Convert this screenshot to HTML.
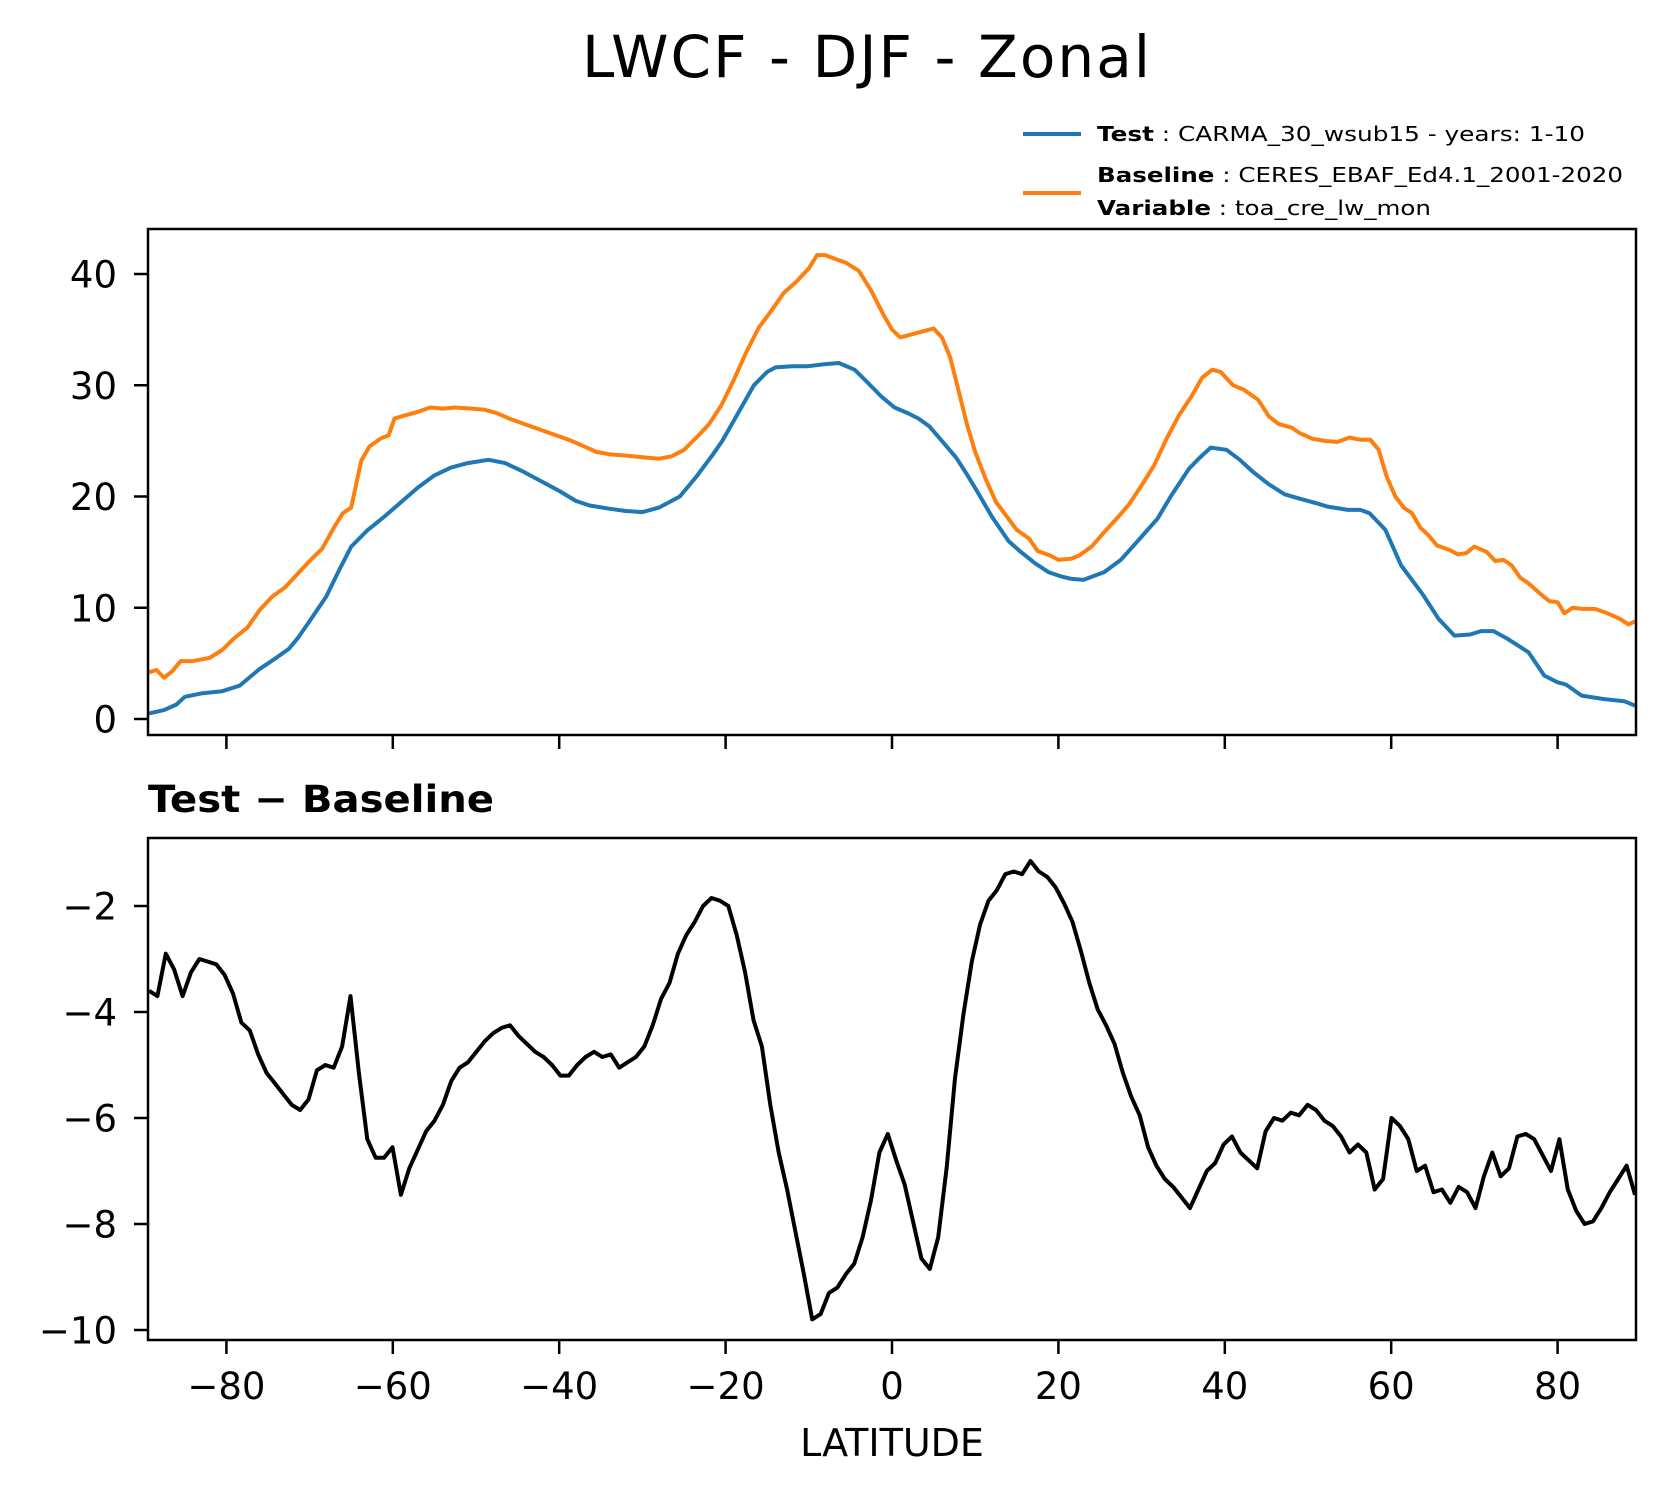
<!DOCTYPE html>
<html><head><meta charset="utf-8"><style>
html,body{margin:0;padding:0;background:#fff;}
svg{display:block;font-family:"DejaVu Sans","Liberation Sans",sans-serif;}
</style></head><body>
<svg id="fig" width="1665" height="1496" viewBox="0 0 1665 1496" xmlns="http://www.w3.org/2000/svg">
<rect width="1665" height="1496" fill="#fff"/>
<text x="866" y="77" font-size="58" text-anchor="middle" textLength="568">LWCF - DJF - Zonal</text>
<g>
  <line x1="1023" y1="134" x2="1081" y2="134" stroke="#1f77b4" stroke-width="4"/>
  <text x="1097" y="141" font-size="20" textLength="488" lengthAdjust="spacingAndGlyphs"><tspan font-weight="bold">Test</tspan> : CARMA_30_wsub15 - years: 1-10</text>
  <line x1="1023" y1="193" x2="1081" y2="193" stroke="#ff7f0e" stroke-width="4"/>
  <text x="1097" y="182" font-size="20" textLength="526" lengthAdjust="spacingAndGlyphs"><tspan font-weight="bold">Baseline</tspan> : CERES_EBAF_Ed4.1_2001-2020</text>
  <text x="1097" y="215" font-size="20" textLength="334" lengthAdjust="spacingAndGlyphs"><tspan font-weight="bold">Variable</tspan> : toa_cre_lw_mon</text>
</g>
<text x="148" y="812" font-size="37" font-weight="bold" textLength="346" lengthAdjust="spacingAndGlyphs">Test − Baseline</text>
<text x="892" y="1456" font-size="38" text-anchor="middle">LATITUDE</text>
<g id="top"></g>
<g id="bot"></g>
</svg>
<script>
const testLat = [-89.3,-87.5,-86,-85,-83,-80.5,-78.4,-76,-74,-72.5,-71.4,-70,-68,-66.5,-65,-63,-61,-59,-57,-55,-53,-51,-48.5,-46.5,-44.5,-42,-40,-38,-36.4,-34,-32,-30,-28,-25.5,-23.5,-21.5,-20.4,-18.5,-16.6,-15,-14,-12,-10.2,-8,-6.4,-4.5,-3,-1.3,0.3,1.9,3.2,4.5,6,7.7,9,10.2,12,14,15.5,17.2,18.8,20.4,21.5,23,25.5,27.5,29.3,31.9,33.5,35.7,37,38.3,40.2,41.8,43.4,45.3,47.2,49,51,52.3,54.8,56.3,57.4,59.3,61.2,63.8,65.7,67.6,69.5,70.8,72.3,74,76.5,78.4,80,81,82.9,85.5,88,89.3];
const testVals = [0.5,0.8,1.3,2,2.3,2.5,3,4.5,5.5,6.3,7.3,8.8,11,13.3,15.5,17,18.2,19.5,20.8,21.9,22.6,23,23.3,23,22.3,21.3,20.5,19.6,19.2,18.9,18.7,18.6,19,20,21.8,23.8,25,27.5,30,31.2,31.6,31.7,31.7,31.9,32,31.4,30.3,29,28,27.5,27,26.3,25,23.5,22,20.5,18.2,16,15,14,13.2,12.8,12.6,12.5,13.2,14.3,15.8,18,20,22.5,23.5,24.4,24.2,23.3,22.2,21.1,20.2,19.8,19.4,19.1,18.8,18.8,18.5,17,13.8,11.2,9,7.5,7.6,7.9,7.9,7.2,6,3.9,3.3,3.1,2.1,1.8,1.6,1.2];
const baseLat = [-89.3,-88.4,-87.5,-86.5,-85.5,-84,-82,-80.5,-79,-77.5,-76,-74.5,-73,-71.5,-70,-68.5,-67,-66,-65,-63.8,-62.8,-61.5,-60.5,-59.8,-58.5,-57,-55.5,-54,-52.5,-50.5,-49,-47.5,-46,-44.5,-43,-41.5,-40,-38.5,-37,-35.5,-34,-32.5,-31,-29.5,-28,-26.5,-25,-23.5,-22,-20.5,-19,-17.5,-16,-14.5,-13,-11.5,-10,-9,-8,-7,-5.5,-4,-2.5,-1,0,1,2.5,4,5,6,7,8,9,10,11.3,12.5,14,15,16.5,17.5,19,20,21.5,22.5,24,25.5,27,28.5,30,31.5,33,34.5,36,37.3,38.5,39.5,41,42.3,44,45.3,46.5,48,49,50.5,52,53.5,55,56.3,57.5,58.5,59.5,60.5,61.5,62.5,63.5,64.5,65.5,67,68,69,70,71.5,72.5,73.5,74.5,75.5,76.5,78,79,80,80.8,81.8,83,84.5,86,87.5,88.5,89.4];
const baseVals = [4.2,4.4,3.7,4.3,5.2,5.2,5.5,6.2,7.3,8.2,9.8,11,11.8,13,14.2,15.3,17.3,18.5,19,23.2,24.5,25.2,25.5,27,27.3,27.6,28,27.9,28,27.9,27.8,27.5,27,26.6,26.2,25.8,25.4,25,24.5,24,23.8,23.7,23.6,23.5,23.4,23.6,24.2,25.3,26.5,28.2,30.5,33,35.2,36.7,38.3,39.3,40.5,41.7,41.7,41.4,41,40.3,38.5,36.3,35,34.3,34.6,34.9,35.1,34.3,32.5,29.5,26.5,24,21.5,19.5,18,17,16.2,15.1,14.7,14.3,14.4,14.7,15.5,16.8,18,19.3,21,22.8,25.2,27.3,29,30.7,31.4,31.2,30,29.6,28.7,27.2,26.5,26.2,25.7,25.2,25,24.9,25.3,25.1,25.1,24.2,21.7,20,19,18.5,17.2,16.5,15.6,15.2,14.8,14.9,15.5,15,14.2,14.3,13.8,12.7,12.2,11.2,10.6,10.5,9.5,10,9.9,9.9,9.5,9,8.5,8.8];
const diffVals = [-3.6,-3.7,-2.9,-3.2,-3.7,-3.25,-3.0,-3.05,-3.1,-3.3,-3.65,-4.2,-4.35,-4.8,-5.15,-5.35,-5.55,-5.75,-5.85,-5.65,-5.1,-5.0,-5.05,-4.65,-3.7,-5.15,-6.4,-6.75,-6.75,-6.55,-7.45,-6.95,-6.6,-6.25,-6.05,-5.75,-5.3,-5.05,-4.95,-4.75,-4.55,-4.4,-4.3,-4.25,-4.45,-4.6,-4.75,-4.85,-5.0,-5.2,-5.2,-5.0,-4.85,-4.75,-4.85,-4.8,-5.05,-4.95,-4.85,-4.65,-4.25,-3.75,-3.45,-2.9,-2.55,-2.3,-2.0,-1.85,-1.9,-2.0,-2.55,-3.25,-4.15,-4.65,-5.75,-6.65,-7.35,-8.15,-8.95,-9.8,-9.7,-9.3,-9.2,-8.95,-8.75,-8.25,-7.55,-6.65,-6.3,-6.8,-7.25,-7.95,-8.65,-8.85,-8.25,-6.95,-5.25,-4.05,-3.05,-2.35,-1.9,-1.7,-1.4,-1.35,-1.4,-1.15,-1.35,-1.45,-1.65,-1.95,-2.3,-2.85,-3.45,-3.95,-4.25,-4.6,-5.15,-5.6,-5.95,-6.55,-6.9,-7.15,-7.3,-7.5,-7.7,-7.35,-7.0,-6.85,-6.5,-6.35,-6.65,-6.8,-6.95,-6.25,-6.0,-6.05,-5.9,-5.95,-5.75,-5.85,-6.05,-6.15,-6.35,-6.65,-6.5,-6.65,-7.35,-7.15,-6.0,-6.15,-6.4,-7.0,-6.9,-7.4,-7.35,-7.6,-7.3,-7.4,-7.7,-7.1,-6.65,-7.1,-6.95,-6.35,-6.3,-6.4,-6.7,-7.0,-6.4,-7.35,-7.75,-8.0,-7.95,-7.7,-7.4,-7.15,-6.9,-7.45];
const diffLatStart = -89.3, diffLatEnd = 89.3;
const xTicks = [-80,-60,-40,-20,0,20,40,60,80];
const xTickLabels = ["−80","−60","−40","−20","0","20","40","60","80"];
const topYTicks = [0,10,20,30,40];
const botYTicks = [-2,-4,-6,-8,-10];

const NS = "http://www.w3.org/2000/svg";
const AX = {left:148,right:1636};
const xs = lat => 892 + lat*8.32;
const yTop = v => 719 - v*11.125;
const yBot = v => 906 - (v + 2)*53;
function mk(tag, attrs, parent){
  const e = document.createElementNS(NS, tag);
  for (const k in attrs) e.setAttribute(k, attrs[k]);
  parent.appendChild(e);
  return e;
}
function fmt(v){ return v < 0 ? "−" + Math.abs(v) : String(v); }

function drawAxes(g, top, bottom, yTicks, yfn, showXLabels, prefix){
  yTicks.forEach(t => {
    const y = yfn(t);
    const tk = mk("line", {x1:AX.left-14, x2:AX.left, y1:y, y2:y, stroke:"#000", "stroke-width":2.5}, g);
    
    
    const lb = mk("text", {x:AX.left-31, y:y+13.5, "font-size":37, "text-anchor":"end"}, g);
    lb.textContent = fmt(t);
    
    
  });
  xTicks.forEach((t, i) => {
    const x = xs(t);
    const tk = mk("line", {x1:x, x2:x, y1:bottom, y2:bottom+14, stroke:"#000", "stroke-width":2.5}, g);
    
    
    if (showXLabels){
      const lb = mk("text", {x:x, y:1399, "font-size":37, "text-anchor":"middle"}, g);
      lb.textContent = xTickLabels[i];
      
      
    }
  });
}
function drawLine(g, lats, vals, yfn, color, name, clipId){
  const d = lats.map((la, i) => (i ? "L" : "M") + xs(la).toFixed(1) + "," + yfn(vals[i]).toFixed(1)).join(" ");
  const p = mk("path", {d:d, fill:"none", stroke:color, "stroke-width":4, "stroke-linejoin":"round", "clip-path":"url(#"+clipId+")"}, g);
  
  
}

const svg = document.getElementById("fig");
const defs = mk("defs", {}, svg);
const c1 = mk("clipPath", {id:"clipTop"}, defs); mk("rect", {x:148, y:229, width:1488, height:506}, c1);
const c2 = mk("clipPath", {id:"clipBot"}, defs); mk("rect", {x:148, y:838, width:1488, height:502}, c2);

const gTop = document.getElementById("top");


drawLine(gTop, testLat, testVals, yTop, "#1f77b4", "test-line", "clipTop");
drawLine(gTop, baseLat, baseVals, yTop, "#ff7f0e", "baseline-line", "clipTop");
const f1 = mk("rect", {x:148, y:229, width:1488, height:506, fill:"none", stroke:"#000", "stroke-width":2.5}, gTop);


drawAxes(gTop, 229, 735, topYTicks, yTop, false, "top");

const gBot = document.getElementById("bot");


const diffLat = diffVals.map((_, i) => diffLatStart + i*(diffLatEnd - diffLatStart)/(diffVals.length - 1));
drawLine(gBot, diffLat, diffVals, yBot, "#000", "difference-line", "clipBot");
const f2 = mk("rect", {x:148, y:838, width:1488, height:502, fill:"none", stroke:"#000", "stroke-width":2.5}, gBot);


drawAxes(gBot, 838, 1340, botYTicks, yBot, true, "bottom");
</script>
</body></html>
